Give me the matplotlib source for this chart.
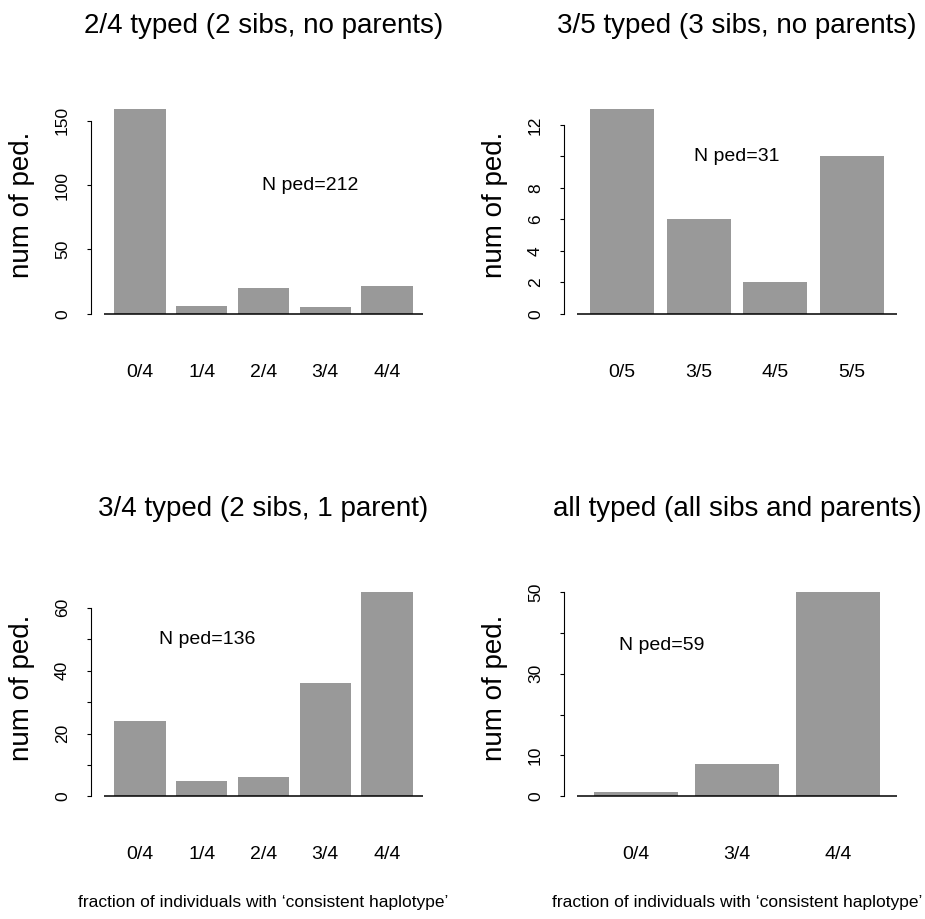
import numpy as np
import matplotlib
matplotlib.use("Agg")
import matplotlib.pyplot as plt

# data
titles = ["2/4 typed (2 sibs, no parents)", "3/5 typed (3 sibs, no parents)",
          "3/4 typed (2 sibs, 1 parent)", "all typed (all sibs and parents)"]
cats_a = ["0/4", "1/4", "2/4", "3/4", "4/4"]
vals_a = [159, 6, 20, 5, 22]
cats_b = ["0/5", "3/5", "4/5", "5/5"]
vals_b = [13, 6, 2, 10]
cats_c = ["0/4", "1/4", "2/4", "3/4", "4/4"]
vals_c = [24, 5, 6, 36, 65]
cats_d = ["0/4", "3/4", "4/4"]
vals_d = [1, 8, 50]
n_ped = ["N ped=212", "N ped=31", "N ped=136", "N ped=59"]
note_xy = [(4, 100), (2.5, 10), (2, 50), (1, 37)]
yticks = [np.arange(0, 151, 50), np.arange(0, 13, 2), np.arange(0, 61, 10), np.arange(0, 51, 10)]
ylabels_shown = [["0", "50", "100", "150"],
                 ["0", "2", "4", "6", "8", "", "12"],
                 ["0", "", "20", "", "40", "", "60"],
                 ["0", "10", "", "30", "", "50"]]

fam = ["Liberation Sans", "DejaVu Sans"]
bar_col = "#999999"

W, H = 925, 919
fig = plt.figure(figsize=(W / 100, H / 100), dpi=100)

# plot regions in pixels: (left, top, width, height)
boxes = [(104, 101, 319, 221), (577, 101, 320, 221),
         (104, 584, 319, 220.5), (577, 584, 320, 220.5)]
panels = [(cats_a, vals_a), (cats_b, vals_b), (cats_c, vals_c), (cats_d, vals_d)]

for k, ((cats, vals), (l, t, w, h)) in enumerate(zip(panels, boxes)):
    ax = fig.add_axes([l / W, 1 - (t + h) / H, w / W, h / H])
    n = len(cats)
    x = 0.7 + 1.2 * np.arange(n)
    ax.bar(x, vals, width=1.0, color=bar_col, edgecolor="none")
    ax.set_xlim(0, 1.2 * n + 0.2)
    top = max(vals)
    ax.set_ylim(-0.04 * top, 1.04 * top)
    ax.axhline(0, color="black", lw=1.1)

    for s in ["top", "right", "bottom"]:
        ax.spines[s].set_visible(False)
    ax.spines["left"].set_position(("outward", 9.4))
    ax.spines["left"].set_bounds(yticks[k][0], yticks[k][-1])
    ax.spines["left"].set_linewidth(0.8)

    ax.set_xticks(x)
    ax.set_xticklabels(cats, fontsize=14, family=fam)
    ax.tick_params(axis="x", length=0, pad=30)

    ax.set_yticks(yticks[k])
    ax.set_yticklabels(ylabels_shown[k], fontsize=12.5, family=fam, rotation=90, va="center")
    ax.tick_params(axis="y", length=3, width=0.8, pad=12)

    ax.set_ylabel("num of ped.", fontsize=20, family=fam, va="center")
    ax.yaxis.set_label_coords(-82 / w, 0.53)

    ax.text(note_xy[k][0], note_xy[k][1], n_ped[k], fontsize=14, family=fam,
            ha="center", va="center")
    ax.text(0.5, 1 + 68 / h, titles[k], transform=ax.transAxes, fontsize=20,
            family=fam, ha="center", va="baseline")

    if k >= 2:
        ax.set_xlabel("fraction of individuals with \u2018consistent haplotype\u2019",
                      fontsize=12.5, family=fam, va="center")
        ax.xaxis.set_label_coords(0.5, -98 / h)

fig.savefig("out.png", dpi=100)
